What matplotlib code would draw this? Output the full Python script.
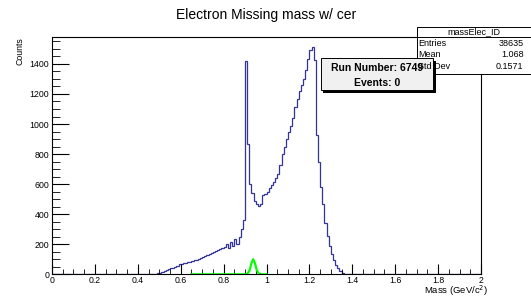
import matplotlib.pyplot as plt
import numpy as np
from matplotlib.patches import Rectangle

plt.rcParams['font.family'] = ['Liberation Sans', 'DejaVu Sans']

# histogram: 200 bins from 0 to 2 GeV/c^2
n_bins = 200
x_lo, x_hi = 0.0, 2.0
counts = [
    # 0.00 - 0.49
    0, 0, 3, 0, 0, 2, 0, 0, 0, 0,
    2, 3, 0, 2, 0, 0, 3, 0, 2, 0,
    3, 0, 2, 3, 0, 2, 2, 0, 3, 2,
    0, 2, 3, 3, 0, 0, 2, 3, 2, 0,
    3, 3, 2, 3, 4, 3, 4, 3, 5, 6,
    # 0.50 - 0.89
    10, 16, 22, 28, 35, 40, 45, 50, 58, 66,
    70, 72, 76, 80, 85, 88, 92, 98, 102, 108,
    115, 124, 130, 136, 145, 150, 156, 162, 168, 176,
    182, 200, 176, 212, 188, 232, 204, 248, 300, 360,
    # 0.90 - 1.19
    1420, 870, 600, 540, 490, 470, 455, 470, 525, 535,
    550, 572, 594, 616, 640, 670, 725, 800, 850, 900,
    950, 985, 1040, 1110, 1165, 1220, 1260, 1300, 1360, 1430,
    # 1.20 - 1.49
    1490, 1515, 1425, 930, 750, 580, 470, 340, 255, 190,
    135, 95, 65, 40, 22, 10, 5, 3, 4, 3,
    4, 3, 2, 3, 4, 3, 2, 3, 4, 3,
    # 1.50 - 1.99
    4, 5, 4, 3, 5, 3, 2, 3, 2, 3,
    2, 3, 2, 2, 3, 2, 3, 2, 2, 3,
    2, 2, 3, 2, 2, 3, 2, 2, 3, 2,
    2, 3, 2, 2, 2, 0, 0, 0, 0, 0,
    0, 0, 0, 0, 0, 0, 0, 0, 0, 0,
]

# green fit curve points
fit_x = [0.65, 0.90, 0.912, 0.922, 0.93, 0.938, 0.946, 0.954, 0.964, 0.976, 1.0]
fit_y = [0, 0, 3, 30, 75, 100, 75, 30, 5, 0, 0]

x_ticks = [0, 0.2, 0.4, 0.6, 0.8, 1.0, 1.2, 1.4, 1.6, 1.8, 2.0]
x_labels = ['0', '0.2', '0.4', '0.6', '0.8', '1', '1.2', '1.4', '1.6', '1.8', '2']
y_ticks = [0, 200, 400, 600, 800, 1000, 1200, 1400]

W, H = 531, 297
fig = plt.figure(figsize=(W / 100, H / 100), dpi=100)
ax = fig.add_axes([52 / W, 1 - 274.3 / H, (481 - 52) / W, (274.3 - 37) / H])

edges = np.linspace(x_lo, x_hi, n_bins + 1)
ax.stairs(counts, edges, color='#333399', linewidth=0.9)
ax.plot(fit_x, fit_y, color='#00ff00', linewidth=1.6)

ax.set_xlim(x_lo, x_hi)
ax.set_ylim(0, 1579)
ax.set_xticks(x_ticks)
ax.set_xticklabels(x_labels)
ax.set_yticks(y_ticks)
ax.set_xticks(np.arange(0, 2.001, 0.05), minor=True)
ax.set_yticks(np.arange(0, 1579, 50), minor=True)
ax.tick_params(which='both', direction='in', top=False, right=False, labelsize=6.3, pad=2)
ax.tick_params(axis='x', which='major', length=7, pad=1)
ax.tick_params(axis='x', which='minor', length=3.5)
ax.tick_params(axis='y', which='major', length=12)
ax.tick_params(axis='y', which='minor', length=6)
for s in ax.spines.values():
    s.set_linewidth(0.8)

fig.text(266 / W, 1 - 15 / H, 'Electron Missing mass w/ cer', ha='center', va='center', fontsize=10)
fig.text(20 / W, 1 - 37 / H, 'Counts', rotation=90, ha='center', va='top', fontsize=6.3)
fig.text(488 / W, 1 - 291 / H, 'Mass (GeV/c$^{2}$)', ha='right', va='center', fontsize=6.8)

# stats box
sx0, sx1, sy0, sy1 = 417, 531, 26.7, 74
fig.patches.append(Rectangle((sx0 / W, 1 - sy1 / H), (sx1 - sx0) / W, (sy1 - sy0) / H,
                             transform=fig.transFigure, facecolor='white', edgecolor='black', linewidth=0.7))
fig.add_artist(plt.Line2D([sx0 / W, sx1 / W], [1 - 36.7 / H, 1 - 36.7 / H], color='black', linewidth=0.7))
fig.text((sx0 + sx1) / 2 / W, 1 - 31.7 / H, 'massElec_ID', ha='center', va='center', fontsize=6.5)
for row, (name, val) in zip([43.3, 55, 66.7], [('Entries', '38635'), ('Mean', '1.068'), ('Std Dev', '0.1571')]):
    fig.text(418.5 / W, 1 - row / H, name, ha='left', va='center', fontsize=6.5)
    fig.text(523.5 / W, 1 - row / H, val, ha='right', va='center', fontsize=6.5)

# run number box with shadow
bx0, bx1, by0, by1 = 320.5, 433, 58, 90
fig.patches.append(Rectangle(((bx0 + 2.5) / W, 1 - (by1 + 2.5) / H), (bx1 - bx0) / W, (by1 - by0) / H,
                             transform=fig.transFigure, facecolor='black', edgecolor='black', linewidth=0))
fig.patches.append(Rectangle((bx0 / W, 1 - by1 / H), (bx1 - bx0) / W, (by1 - by0) / H,
                             transform=fig.transFigure, facecolor='#f0f0f0', edgecolor='black', linewidth=0.7))
fig.text((bx0 + bx1) / 2 / W, 1 - 68.3 / H, 'Run Number: 6749', ha='center', va='center', fontsize=7.5, fontweight='bold')
fig.text((bx0 + bx1) / 2 / W, 1 - 82.5 / H, 'Events: 0', ha='center', va='center', fontsize=7.5, fontweight='bold')

fig.savefig('out.png', dpi=100)
